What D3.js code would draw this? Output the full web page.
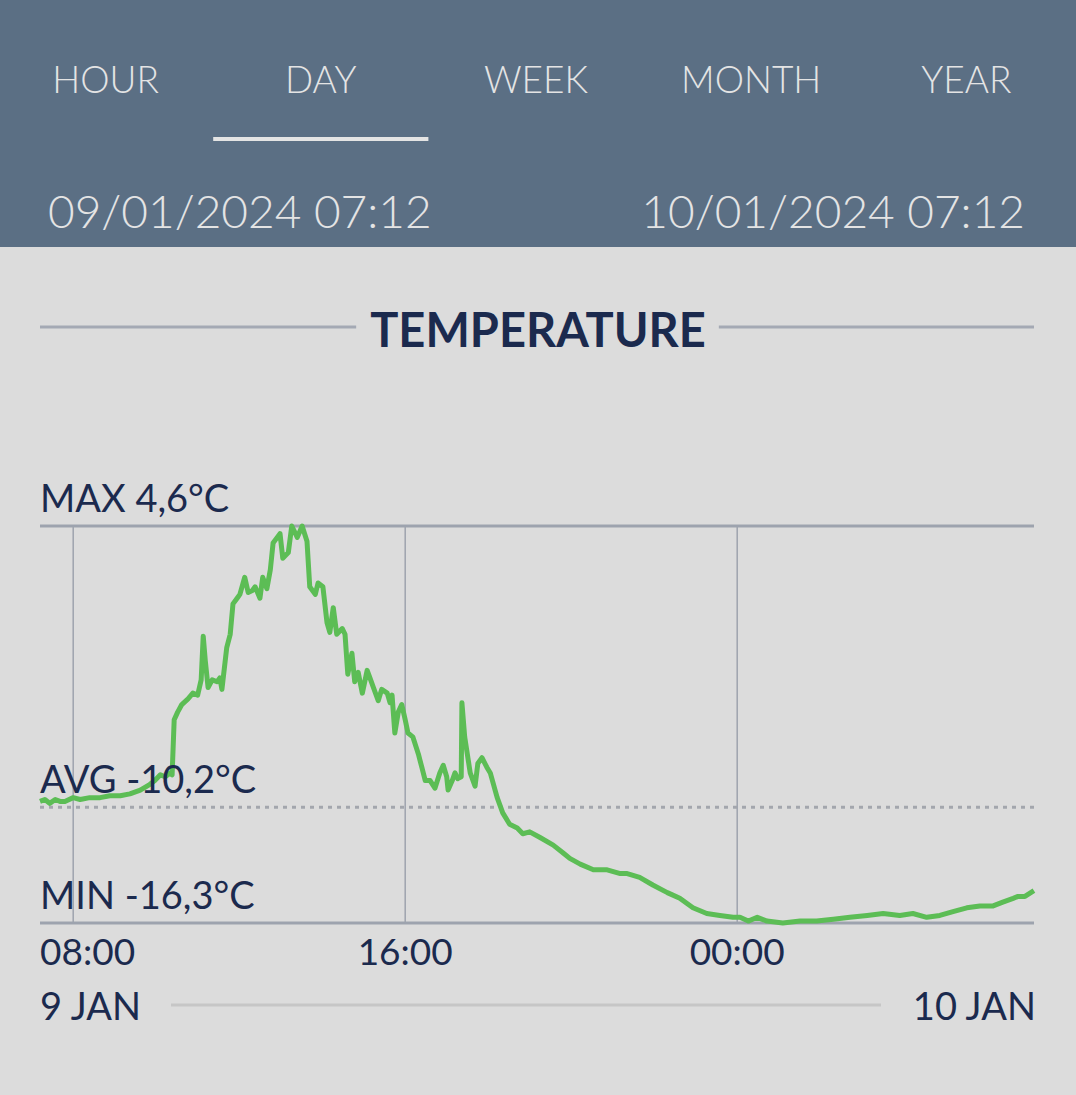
<!DOCTYPE html>
<html>
<head>
<meta charset="utf-8">
<script src="https://cdn.jsdelivr.net/npm/d3@7"></script>
<style>
  html, body { margin: 0; padding: 0; background: #dcdcdc; }
  svg { display: block; font-family: Lato, "Open Sans", sans-serif; }
</style>
</head>
<body>
<div id="chart"></div>
<script>
// tabs and range shown in the header
var tabs = ["HOUR", "DAY", "WEEK", "MONTH", "YEAR"];
var activeTab = "DAY";
var rangeStart = "09/01/2024 07:12";
var rangeEnd = "10/01/2024 07:12";

// summary values (°C)
var maxTemp = 4.6;
var avgTemp = -10.2;
var minTemp = -16.3;

// readings; times before 07:12 belong to 10 Jan
var times = ["07:12","07:19","07:26","07:34","07:41","07:48","08:00","08:10","08:24","08:39",
  "08:53","09:08","09:22","09:37","09:51","09:58","10:06","10:13","10:20","10:23",
  "10:26","10:31","10:37","10:46","10:53","11:00","11:05","11:08","11:11","11:15",
  "11:21","11:28","11:32","11:35","11:42","11:47","11:51","11:57","12:01","12:08",
  "12:13","12:19","12:23","12:30","12:34","12:40","12:45","12:49","12:55","12:59",
  "13:03","13:11","13:16","13:24","13:31","13:38","13:42","13:50","13:54","14:01",
  "14:07","14:11","14:16","14:21","14:29","14:33","14:37","14:43","14:47","14:52",
  "14:58","15:05","15:09","15:21","15:26","15:34","15:38","15:41","15:45","15:50",
  "15:55","16:00","16:04","16:11","16:19","16:24","16:29","16:36","16:43","16:50",
  "16:55","17:00","17:02","17:08","17:12","17:16","17:21","17:22","17:26","17:34",
  "17:41","17:45","17:51","17:58","18:03","18:13","18:21","18:31","18:42","18:50",
  "19:00","19:15","19:34","19:48","19:58","20:13","20:32","20:52","21:11","21:21",
  "21:39","21:58","22:19","22:37","22:56","23:16","23:35","23:54","00:04","00:16",
  "00:29","00:43","01:06","01:31","01:55","02:19","02:43","03:08","03:31","03:55",
  "04:14","04:34","04:53","05:12","05:32","05:51","06:10","06:24","06:39","06:46",
  "06:56","07:09"];
var temps = [-9.9,-9.8,-10.0,-9.8,-9.9,-9.9,-9.7,-9.8,-9.7,-9.7,
  -9.6,-9.6,-9.5,-9.3,-9.0,-8.8,-8.5,-8.6,-8.4,-8.5,
  -5.6,-5.2,-4.8,-4.5,-4.2,-4.3,-3.5,-1.2,-2.5,-3.9,
  -3.5,-3.6,-3.4,-4.0,-1.8,-1.1,0.5,0.8,1.0,1.9,
  1.1,1.2,1.4,0.8,1.9,1.3,2.3,3.7,4.0,4.2,
  2.9,3.2,4.6,4.0,4.6,3.8,1.4,1.0,1.6,1.4,
  -0.5,-1.0,0.3,-1.1,-0.8,-1.1,-3.2,-2.1,-3.6,-3.1,
  -4.2,-3.0,-3.4,-4.6,-4.0,-4.2,-4.7,-4.3,-6.3,-5.2,
  -4.8,-5.6,-6.3,-6.5,-7.4,-8.1,-8.8,-8.8,-9.2,-8.4,
  -8.0,-8.6,-9.3,-8.8,-8.4,-8.7,-8.6,-4.7,-6.5,-8.4,
  -9.1,-7.9,-7.6,-8.1,-8.4,-9.7,-10.5,-11.1,-11.3,-11.6,
  -11.5,-11.8,-12.2,-12.6,-12.9,-13.2,-13.5,-13.5,-13.7,-13.7,
  -13.9,-14.3,-14.7,-15.0,-15.5,-15.8,-15.9,-16.0,-16.0,-16.2,
  -16.0,-16.2,-16.3,-16.2,-16.2,-16.1,-16.0,-15.9,-15.8,-15.9,
  -15.8,-16.0,-15.9,-15.7,-15.5,-15.4,-15.4,-15.2,-15.0,-14.9,
  -14.9,-14.6];

var tickTimes = ["08:00", "16:00", "00:00"];
var dayLabels = ["9 JAN", "10 JAN"];

var W = 1076, H = 1095;
var navy = "#1b2a4e";
var parseFull = d3.timeParse("%d/%m/%Y %H:%M");
var t0 = parseFull(rangeStart), t1 = parseFull(rangeEnd);

function toDate(hm) {
  var day = hm < "07:12" ? "10/01/2024 " : "09/01/2024 ";
  return parseFull(day + hm);
}

var data = times.map(function(t, i) { return { date: toDate(t), value: temps[i] }; });

var svg = d3.select("#chart").append("svg")
  .attr("width", W).attr("height", H);

// header band
svg.append("rect").attr("width", W).attr("height", 247).attr("fill", "#5b6f84");

var tabW = W / tabs.length;
svg.selectAll(".tab").data(tabs).enter().append("text")
  .attr("class", "tab")
  .attr("x", function(d, i) { return tabW * i + tabW / 2 - 2; })
  .attr("y", 93)
  .attr("text-anchor", "middle")
  .attr("fill", "#e4e4e4")
  .attr("font-size", 37)
  .attr("font-weight", 300)
  .text(function(d) { return d; });

var ai = tabs.indexOf(activeTab);
svg.append("rect")
  .attr("x", tabW * ai - 2).attr("y", 137)
  .attr("width", tabW).attr("height", 4)
  .attr("fill", "#e4e4e4");

svg.append("text").attr("x", 48).attr("y", 228)
  .attr("fill", "#e4e4e4").attr("font-size", 46).attr("font-weight", 300)
  .text(rangeStart);
svg.append("text").attr("x", 1025).attr("y", 228).attr("text-anchor", "end")
  .attr("fill", "#e4e4e4").attr("font-size", 46).attr("font-weight", 300)
  .text(rangeEnd);

// title with side rules
var title = svg.append("text").attr("x", 538).attr("y", 347)
  .attr("text-anchor", "middle").attr("fill", navy)
  .attr("font-size", 47).attr("font-weight", 700)
  .text("TEMPERATURE");
var tb = title.node().getBBox();
svg.append("line").attr("x1", 40).attr("x2", tb.x - 14).attr("y1", 327).attr("y2", 327)
  .attr("stroke", "#a4a9b4").attr("stroke-width", 3);
svg.append("line").attr("x1", tb.x + tb.width + 13).attr("x2", 1034).attr("y1", 327).attr("y2", 327)
  .attr("stroke", "#a4a9b4").attr("stroke-width", 3);

// plot area
var plotLeft = 40, plotRight = 1036, plotTop = 526, plotBottom = 923;
var x = d3.scaleTime().domain([t0, t1]).range([plotLeft, plotRight]);
var y = d3.scaleLinear().domain([minTemp, maxTemp]).range([plotBottom, plotTop]);

var g = svg.append("g");

g.selectAll(".vgrid").data(tickTimes).enter().append("line")
  .attr("class", "vgrid")
  .attr("x1", function(d) { return x(toDate(d)); })
  .attr("x2", function(d) { return x(toDate(d)); })
  .attr("y1", y(maxTemp)).attr("y2", y(minTemp))
  .attr("stroke", "#9ea3ad").attr("stroke-width", 1.5);

// plain hyphen and decimal comma, like the app
var fmt = function(v) { return v.toFixed(1).replace(".", ","); };
var refs = [
  { name: "MAX", v: maxTemp, dash: null },
  { name: "AVG", v: avgTemp, dash: "4,5" },
  { name: "MIN", v: minTemp, dash: null }
];
refs.forEach(function(r) {
  g.append("line")
    .attr("x1", plotLeft).attr("x2", 1034)
    .attr("y1", y(r.v)).attr("y2", y(r.v))
    .attr("stroke", r.dash ? "#a3a6ad" : "#9da3ae")
    .attr("stroke-width", 3)
    .attr("stroke-dasharray", r.dash);
});

var line = d3.line()
  .x(function(d) { return x(d.date); })
  .y(function(d) { return y(d.value); });

g.append("path").datum(data)
  .attr("d", line)
  .attr("fill", "none")
  .attr("stroke", "#5cbd55")
  .attr("stroke-width", 5)
  .attr("stroke-linejoin", "round");

refs.forEach(function(r) {
  g.append("text")
    .attr("x", plotLeft).attr("y", y(r.v) - 14)
    .attr("fill", navy).attr("font-size", 38)
    .text(r.name + " " + fmt(r.v) + "°C");
});

// time labels under the axis
g.selectAll(".tick-label").data(tickTimes).enter().append("text")
  .attr("class", "tick-label")
  .attr("x", function(d, i) { return i === 0 ? plotLeft : x(toDate(d)); })
  .attr("y", 965)
  .attr("text-anchor", function(d, i) { return i === 0 ? "start" : "middle"; })
  .attr("fill", navy).attr("font-size", 37)
  .text(function(d) { return d; });

svg.append("text").attr("x", plotLeft).attr("y", 1020)
  .attr("fill", navy).attr("font-size", 38).text(dayLabels[0]);
svg.append("text").attr("x", plotRight).attr("y", 1020).attr("text-anchor", "end")
  .attr("fill", navy).attr("font-size", 38).text(dayLabels[1]);
svg.append("line").attr("x1", 171).attr("x2", 881).attr("y1", 1005).attr("y2", 1005)
  .attr("stroke", "#c6c6c6").attr("stroke-width", 3);
</script>
</body>
</html>
